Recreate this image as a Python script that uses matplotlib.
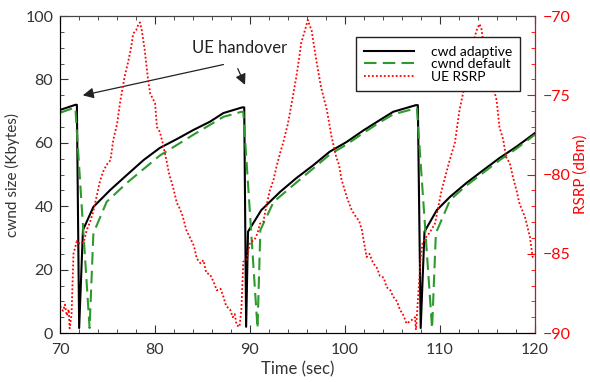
import matplotlib.pyplot as plt
from matplotlib.ticker import MultipleLocator

plt.rcParams['font.family'] = ['Lato', 'DejaVu Sans']

# cwnd adaptive (Kbytes)
t_adapt = [70.0, 71.6, 71.76, 72.0, 72.4, 73.5, 75.26, 77.0, 78.8, 80.5, 82.3, 84.0, 85.8, 87.2, 89.2,
           89.4, 89.6, 89.8, 91.2, 93.2, 94.9, 96.7, 98.4, 100.2, 102.0, 103.7, 105.1, 107.5,
           107.7, 108.0, 108.4, 109.7, 111.1, 112.8, 114.6, 116.3, 118.1, 120.0]
cwnd_adapt = [70.4, 72.0, 72.0, 1.6, 32.5, 39.8, 45.1, 49.8, 54.6, 58.4, 61.2, 64.0, 66.7, 69.4, 71.2,
              71.2, 2.0, 32.0, 38.8, 44.6, 48.9, 53.0, 57.2, 60.3, 64.0, 67.2, 69.8, 71.9,
              71.9, 1.6, 32.0, 38.8, 43.0, 47.3, 51.4, 55.2, 58.8, 63.0]

# cwnd default (Kbytes)
t_default = [70.0, 71.4, 71.6, 73.1, 73.5, 74.9, 77.0, 80.5, 84.0, 87.2, 89.1,
             89.3, 90.8, 91.1, 92.5, 94.9, 96.7, 98.4, 100.2, 102.0, 103.7, 105.1, 107.5,
             107.6, 109.2, 109.6, 111.1, 112.8, 114.6, 116.3, 118.1, 120.0]
cwnd_default = [69.5, 71.0, 71.0, 1.6, 31.5, 41.4, 47.3, 56.0, 62.5, 68.2, 69.8,
                69.8, 1.5, 32.5, 41.4, 47.5, 52.0, 56.3, 59.5, 63.2, 66.5, 69.0, 70.9,
                70.9, 1.5, 31.5, 42.0, 46.5, 50.6, 54.5, 58.2, 62.5]

# UE RSRP (dBm)
t_rsrp = [70.0, 70.3, 70.5, 70.7, 70.9, 71.0, 71.2, 71.4, 71.75, 72.1, 72.5, 72.8, 73.2, 73.5, 73.9,
          74.2, 74.6, 75.0, 75.3, 75.6, 76.0, 76.3, 76.8, 77.2, 77.5, 77.7, 78.0, 78.2, 78.4, 78.6,
          78.9, 79.3, 79.5, 80.0, 80.2, 80.5, 80.8, 81.2, 81.5, 81.9, 82.3, 82.5, 82.9, 83.3, 83.7,
          84.1, 84.4, 84.8, 85.1, 85.4, 85.8, 86.2, 86.5, 86.9, 87.2, 87.5, 87.9, 88.2, 88.4, 88.6,
          88.9, 89.1, 89.3, 89.65, 90.0, 90.5, 90.8, 91.05, 91.4, 91.7, 92.1, 92.5, 92.8, 93.2,
          93.5, 94.0, 94.4, 94.9, 95.2, 95.4, 95.8, 96.1, 96.3, 96.5, 97.0, 97.5, 98.1, 98.6, 99.1,
          99.4, 99.65, 100.2, 100.7, 101.2, 101.5, 101.8, 102.3, 102.6, 103.0, 103.4, 103.7, 104.1,
          104.4, 104.8, 105.1, 105.5, 105.8, 106.2, 106.5, 107.0, 107.4, 107.5, 108.0, 108.2, 108.5,
          108.9, 109.2, 109.5, 109.8, 110.2, 110.6, 111.05, 111.6, 112.1, 112.6, 112.9, 113.2, 113.6,
          113.9, 114.2, 114.4, 114.6, 115.0, 115.3, 115.7, 116.0, 116.3, 116.7, 117.0, 117.4, 117.7,
          118.1, 118.4, 119.0, 119.5, 119.8, 120.0]
rsrp = [-88.3, -88.6, -88.2, -88.9, -88.5, -89.7, -88.8, -85.0, -84.2, -84.4, -84.2, -83.5, -82.9, -82.3, -81.2,
        -80.4, -79.7, -79.3, -79.1, -77.8, -76.8, -75.5, -73.8, -72.8, -71.9, -71.1, -70.9, -70.6, -70.4, -70.9,
        -72.1, -74.2, -74.9, -75.5, -77.0, -77.3, -78.0, -79.1, -80.0, -80.8, -81.8, -82.0, -82.6, -83.5, -84.0,
        -84.5, -85.3, -85.6, -85.4, -86.2, -86.3, -86.8, -87.3, -87.2, -87.7, -88.3, -88.5, -89.0, -88.8, -89.5,
        -89.6, -88.5, -85.5, -85.4, -84.3, -84.1, -83.7, -83.1, -83.0, -82.1, -81.0, -80.3, -79.5, -78.6,
        -78.0, -76.8, -75.5, -73.8, -72.6, -71.7, -70.9, -70.25, -70.6, -70.9, -72.8, -74.5, -75.9, -77.6, -78.9,
        -79.4, -80.3, -81.4, -82.2, -82.7, -82.9, -83.5, -85.2, -85.0, -85.6, -85.9, -86.4, -86.5,
        -87.1, -87.3, -87.7, -88.0, -88.5, -88.9, -89.4, -89.2, -89.0, -89.8, -85.2, -84.3, -84.0,
        -83.7, -83.4, -83.1, -82.2, -81.0, -80.1, -79.1, -78.0, -75.9, -74.5, -73.6, -72.4, -71.5,
        -70.9, -70.5, -70.8, -71.7, -72.8, -73.8, -74.6, -75.3, -77.0, -77.8, -78.9, -79.3, -80.1,
        -81.0, -81.8, -82.7, -83.9, -85.2, -85.3]

x_ticks = [70, 80, 90, 100, 110, 120]

fig, ax = plt.subplots(figsize=(5.9, 3.82), dpi=100)
fig.subplots_adjust(left=0.102, right=0.906, bottom=0.128, top=0.958)
ax2 = ax.twinx()

l1, = ax.plot(t_adapt, cwnd_adapt, color='black', lw=1.5, label='cwd adaptive')
l2, = ax.plot(t_default, cwnd_default, color='#2e9a2e', lw=1.5, ls=(0, (6, 3)), label='cwnd default')
l3, = ax2.plot(t_rsrp, rsrp, color='red', lw=1.3, ls=(0, (1, 1.2)), label='UE RSRP')

ax.set_xlim(70, 120)
ax.set_ylim(0, 100)
ax2.set_ylim(-90, -70)
ax.set_xticks(x_ticks)
ax.xaxis.set_minor_locator(MultipleLocator(2))
ax.yaxis.set_major_locator(MultipleLocator(20))
ax.yaxis.set_minor_locator(MultipleLocator(5))
ax2.yaxis.set_major_locator(MultipleLocator(5))
ax2.yaxis.set_minor_locator(MultipleLocator(1))

ax.tick_params(which='both', direction='in', top=True, labelsize=11.5, colors='#333333')
ax.tick_params(which='major', length=6)
ax.tick_params(which='minor', length=3)
ax.tick_params(axis='x', pad=7)
ax.tick_params(axis='y', pad=5)
ax2.tick_params(which='both', direction='in', colors='red', labelsize=11.5, pad=6)
ax2.tick_params(which='major', length=6)
ax2.tick_params(which='minor', length=3)
ax2.spines['right'].set_color('red')
for s in ['left', 'bottom', 'top']:
    ax.spines[s].set_color('#444444')
ax2.spines['top'].set_color('#444444')

ax.set_xlabel('Time (sec)', fontsize=12, color='#333333', labelpad=3)
ax.set_ylabel('cwnd size (Kbytes)', fontsize=11, color='#333333')
ax2.set_ylabel('RSRP (dBm)', fontsize=11, color='red', labelpad=2)

ax.text(88.9, 89.9, 'UE handover', fontsize=12, ha='center', va='center', color='#222222')
ax.annotate('', xy=(72.1, 74.8), xytext=(87.5, 84.9),
            arrowprops=dict(arrowstyle='-|>', color='#222222', lw=0.9, mutation_scale=16))
ax.annotate('', xy=(89.6, 77.5), xytext=(88.6, 84.2),
            arrowprops=dict(arrowstyle='-|>', color='#222222', lw=0.9, mutation_scale=16))

leg = ax2.legend(handles=[l1, l2, l3], loc='upper right', bbox_to_anchor=(0.985, 0.955),
                 fontsize=10, fancybox=False, edgecolor='#222222', framealpha=1,
                 handlelength=3.6, labelspacing=0.05, borderpad=0.6, handletextpad=1.2)
leg.get_frame().set_linewidth(1.0)

plt.savefig('out.png', dpi=100)
